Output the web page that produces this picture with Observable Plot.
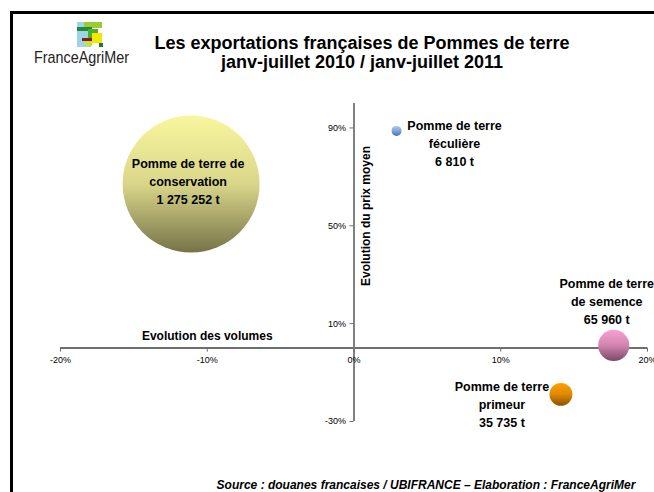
<!DOCTYPE html>
<html>
<head>
<meta charset="utf-8">
<script src="https://cdn.jsdelivr.net/npm/d3@7"></script>
<script src="https://cdn.jsdelivr.net/npm/@observablehq/plot@0.6"></script>
<style>
  html, body { margin: 0; padding: 0; width: 654px; height: 492px; overflow: hidden; background: #fff; font-family: "Liberation Sans", Arial, sans-serif; }
  #frame { position: absolute; left: 10px; top: 11px; width: 800px; height: 700px; border-left: 3px solid #000; border-top: 3px solid #000; }
  #title { position: absolute; left: 112px; width: 500px; top: 34px; text-align: center; font-weight: bold; font-size: 18px; line-height: 19px; color: #000; white-space: nowrap; }
  #logo { position: absolute; left: 0; top: 0; }
  #chart { position: absolute; left: 0; top: 0; }
  #caption { position: absolute; left: 126px; width: 600px; top: 478px; text-align: center; font-weight: bold; font-style: italic; font-size: 12px; line-height: 14px; color: #000; white-space: nowrap; }
</style>
</head>
<body>
<div id="frame"></div>
<svg id="logo" width="150" height="80" xmlns="http://www.w3.org/2000/svg">
  <rect x="77" y="22" width="14" height="25" fill="#9fd3ea"/>
  <rect x="84" y="22" width="18" height="6" fill="#9acd32"/>
  <rect x="77" y="27" width="15" height="4" fill="#1e8a3a"/>
  <rect x="88" y="29" width="10" height="11" fill="#4caf2a"/>
  <rect x="92" y="33" width="10" height="10" fill="#f5e800"/>
  <rect x="82" y="38" width="10" height="3" fill="#8b1a1a"/>
  <rect x="85" y="41" width="7" height="5" fill="#c8e03c"/>
  <rect x="99" y="43" width="4" height="4" fill="#1e7a3a"/>
  <text x="34" y="63" font-family="Liberation Sans Narrow, Liberation Sans, Arial, sans-serif" font-size="17" fill="#222" textLength="95" lengthAdjust="spacingAndGlyphs">FranceAgriMer</text>
</svg>
<div id="title">Les exportations françaises de Pommes de terre<br>janv-juillet 2010 / janv-juillet 2011</div>
<div id="chart"></div>
<div id="caption">Source : douanes francaises / UBIFRANCE – Elaboration : FranceAgriMer</div>
<script>
// ---- Data ----
const categories = ["conservation", "féculière", "semence", "primeur"];
const labels = [
  "Pomme de terre de\nconservation\n1 275 252 t",
  "Pomme de terre\nféculière\n6 810 t",
  "Pomme de terre\nde semence\n65 960 t",
  "Pomme de terre\nprimeur\n35 735 t"
];
const volumes = [1275252, 6810, 65960, 35735];          // tonnes
const volumeChange = [-11.1, 2.9, 17.7, 14.1];          // % evolution des volumes
const priceChange = [67.1, 88.8, 1.1, -18.9];           // % evolution du prix moyen
const xTicks = [-20, -10, 0, 10, 20];
const yTicks = [-30, 10, 50, 90];
const gradients = [
  ["#f8f79e", "#d9d68a", "#767348"],
  ["#a9c9ef", "#7fa5d8", "#4a72b0"],
  ["#f8a0d2", "#d284b0", "#7a4868"],
  ["#ff9f00", "#e08800", "#8a5200"]
];

const data = categories.map((c, i) => ({
  cat: c, label: labels[i], vol: volumes[i], x: volumeChange[i], y: priceChange[i], fill: `url(#grad-${i})`
}));
const pick = c => data.filter(d => d.cat === c);

const labelStyle = { x: "x", y: "y", text: "label", fontWeight: "bold", fontSize: 12.5, lineHeight: 1.45, lineAnchor: "middle", fill: "#000" };

const plot = Plot.plot({
  width: 654,
  height: 492,
  marginLeft: 60,
  marginRight: 7,
  marginTop: 103,
  marginBottom: 71,
  x: { domain: [-20, 20], axis: null },
  y: { domain: [-30, 100], axis: null },
  r: { type: "sqrt", domain: [0, 1275252], range: [0, 68.5] },
  color: { type: "identity" },
  style: { fontFamily: "Liberation Sans, Arial, sans-serif", fontSize: "9px", background: "transparent", overflow: "visible" },
  marks: [
    Plot.ruleY([0], { stroke: "#6e6e6e", strokeWidth: 2 }),
    Plot.ruleX([0], { stroke: "#808080", strokeWidth: 2 }),
    Plot.ruleX(xTicks, { x: d => d, y1: 0, y2: 0, insetBottom: -4, stroke: "#6e6e6e" }),
    Plot.ruleY(yTicks, { y: d => d, x1: 0, x2: 0, insetLeft: -4, stroke: "#6e6e6e" }),
    Plot.text(xTicks, { x: d => d, y: 0, dy: 12, text: d => `${d}%`, fill: "#000", fontSize: 9 }),
    Plot.text(yTicks, { x: 0, y: d => d, dx: -8, text: d => `${d}%`, textAnchor: "end", fill: "#000", fontSize: 9 }),
    Plot.text(["Evolution des volumes"], { x: -10, y: 0, dy: -12, text: d => d, fontWeight: "bold", fontSize: 12, fill: "#000" }),
    Plot.text(["Evolution du prix moyen"], { x: 0, y: 54, dx: 12, rotate: -90, text: d => d, fontWeight: "bold", fontSize: 12, fill: "#000" }),
    Plot.dot(data, { x: "x", y: "y", r: "vol", fill: "fill", stroke: "none" }),
    Plot.text(pick("conservation"), { ...labelStyle, dx: -3, dy: -4 }),
    Plot.text(pick("féculière"), { ...labelStyle, dx: 58, dy: 11 }),
    Plot.text(pick("semence"), { ...labelStyle, dx: -7, dy: -45 }),
    Plot.text(pick("primeur"), { ...labelStyle, dx: -59, dy: 9 })
  ]
});

// gradient definitions for the bubbles
const ns = "http://www.w3.org/2000/svg";
const defs = document.createElementNS(ns, "defs");
gradients.forEach((stops, i) => {
  const g = document.createElementNS(ns, "linearGradient");
  g.setAttribute("id", `grad-${i}`);
  g.setAttribute("x1", "0"); g.setAttribute("y1", "0");
  g.setAttribute("x2", "0"); g.setAttribute("y2", "1");
  stops.forEach((c, j) => {
    const s = document.createElementNS(ns, "stop");
    s.setAttribute("offset", String(j / (stops.length - 1)));
    s.setAttribute("stop-color", c);
    g.appendChild(s);
  });
  defs.appendChild(g);
});
plot.insertBefore(defs, plot.firstChild);

document.getElementById("chart").appendChild(plot);
</script>
</body>
</html>
